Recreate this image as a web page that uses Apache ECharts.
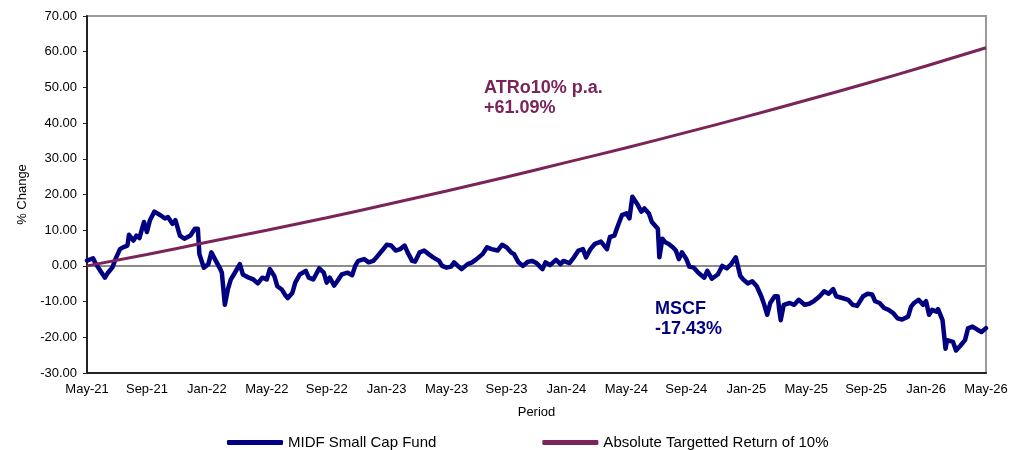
<!DOCTYPE html>
<html>
<head>
<meta charset="utf-8">
<script src="https://cdn.jsdelivr.net/npm/echarts@6/dist/echarts.min.js"></script>
<style>
  html, body { margin: 0; padding: 0; background: #fff; }
  #chart { width: 1031px; height: 450px; }
</style>
</head>
<body>
<div id="chart"></div>
<script>
// x positions are months since May-21
const xLabels = ["May-21", "Sep-21", "Jan-22", "May-22", "Sep-22", "Jan-23", "May-23", "Sep-23",
  "Jan-24", "May-24", "Sep-24", "Jan-25", "May-25", "Sep-25", "Jan-26", "May-26"];

const fundMonths = [
  0, 0.1, 0.4, 0.6, 0.9, 1.2, 1.4, 1.7, 1.9, 2.2, 2.4, 2.7, 2.8, 3.1, 3.3, 3.5, 3.8, 4.0, 4.2, 4.5,
  4.9, 5.2, 5.4, 5.7, 5.9, 6.2, 6.5, 6.9, 7.2, 7.4, 7.5, 7.8, 8.1, 8.3, 8.6, 8.9, 9.0, 9.2, 9.4, 9.6,
  9.8, 10.2, 10.4, 10.8, 11.1, 11.4, 11.7, 12.0, 12.2, 12.5, 12.7, 13.0, 13.2, 13.4, 13.7, 13.9, 14.2, 14.6, 14.8,
  14.9, 15.1, 15.5, 15.8, 16.0, 16.2, 16.5, 16.7, 17.0, 17.4, 17.7, 17.9, 18.1, 18.5, 18.8, 19.1, 19.4, 19.7,
  20.0, 20.3, 20.6, 20.9, 21.2, 21.4, 21.7, 21.9, 22.2, 22.5, 22.8, 23.1, 23.5, 23.7, 24.0, 24.3, 24.5, 24.8,
  25.0, 25.4, 25.7, 26.0, 26.4, 26.7, 27.0, 27.4, 27.7, 28.0, 28.3, 28.5, 28.8, 29.1, 29.4,
  29.7, 30.0, 30.4, 30.6, 30.9, 31.3, 31.6, 31.8, 32.2, 32.5, 32.8, 33.1, 33.3, 33.6, 33.9, 34.3, 34.4, 34.7,
  34.9, 35.2, 35.4, 35.7, 36.0, 36.2, 36.4, 36.7, 37.0, 37.2, 37.5, 37.7, 38.1, 38.2, 38.4, 38.6, 38.8, 39.1,
  39.3, 39.5, 39.7, 40.0, 40.2, 40.5, 40.8, 41.2, 41.4, 41.7, 42.1, 42.4, 42.7, 43.0, 43.3, 43.6, 43.8, 44.1,
  44.4, 44.7, 45.0, 45.2, 45.4, 45.6, 45.9, 46.1, 46.2, 46.3, 46.5, 46.9, 47.2, 47.5, 47.9, 48.2, 48.5, 48.9,
  49.2, 49.5, 49.8, 50.0, 50.4, 50.8, 51.1, 51.4, 51.8, 52.1, 52.4, 52.6, 52.9, 53.2, 53.5, 53.8, 54.1, 54.4,
  54.8, 55.0, 55.2, 55.5, 55.8, 56.0, 56.2, 56.4, 56.7, 56.8, 57.1, 57.3, 57.4, 57.8, 58.0, 58.3, 58.6, 58.8,
  59.1, 59.4, 59.7, 60.0
];
const fundValues = [
  1.5, 1.9, 2.1, 0.5, -1.4, -3.3, -1.9, -0.4, 1.9, 4.7, 5.2, 5.7, 8.7, 7.1, 8.5, 7.8, 12.3, 9.5, 12.8, 15.2,
  14.2, 13.3, 13.7, 11.8, 12.8, 8.5, 7.6, 8.5, 10.4, 10.4, 3.3, -0.5, 0.5, 3.8, 1.4, -0.9, -1.9, -10.9, -6.6, -3.8,
  -2.4, 0.5, -2.4, -3.3, -3.8, -4.9, -3.3, -3.8, -0.9, -2.8, -5.7, -6.6, -8.0, -9.0, -7.6, -4.7, -2.4, -1.4, -3.3,
  -3.3, -3.8, -0.7, -1.9, -4.7, -3.3, -5.5, -4.3, -2.4, -1.9, -2.6, 0, 1.4, 1.9, 1.0, 1.4, 2.8, 4.3,
  5.9, 5.7, 4.3, 4.7, 5.7, 3.8, 1.4, 1.2, 3.8, 4.3, 3.3, 2.4, 1.4, 0, -0.5, -0.2, 1.0, -0.2,
  -0.9, 0.5, 1.0, 1.9, 3.3, 5.2, 4.7, 4.3, 5.9, 5.2, 3.8, 3.3, 1.0, 0, 1.1,
  1.4, 0.8, -0.9, 1.0, 0.2, 1.7, 0.5, 1.4, 0.8, 2.4, 4.3, 4.7, 2.4, 4.7, 6.2, 6.8, 7.1, 4.7,
  8.1, 8.5, 10.9, 14.2, 14.7, 13.3, 19.4, 17.5, 15.2, 16.1, 14.7, 12.3, 10.4, 2.4, 7.6, 6.6, 6.2, 5.2,
  4.3, 1.9, 3.8, 1.9, -0.2, -0.5, -1.9, -3.3, -1.4, -3.6, -2.4, 0, -0.7, 0.5, 2.4, -2.8, -3.8, -4.9,
  -4.3, -5.7, -8.5, -10.9, -13.7, -10.4, -8.5, -8.5, -12.3, -15.2, -10.9, -10.4, -10.9, -9.5, -10.9, -10.6, -9.9, -8.5,
  -7.1, -7.8, -6.5, -8.5, -9.0, -9.5, -10.9, -11.2, -8.5, -7.8, -8.0, -9.9, -10.4, -11.8, -12.3, -13.2, -14.7, -15.0,
  -14.2, -11.4, -10.4, -9.5, -10.9, -9.9, -13.7, -12.3, -12.8, -12.1, -15.2, -23.2, -20.8, -21.3, -23.7, -22.3, -20.8, -17.5,
  -17.0, -17.8, -18.5, -17.43
];

// absolute targetted return, read at each 4-month tick
const atrMonths = [0, 4, 8, 12, 16, 20, 24, 28, 32, 36, 40, 44, 48, 52, 56, 60];
const atrValues = [0, 3.2, 6.6, 10.0, 13.5, 17.2, 21.0, 24.9, 29.0, 33.1, 37.4, 41.8, 46.4, 51.1, 56.0, 61.09];

const fundName = "MIDF Small Cap Fund";
const atrName = "Absolute Targetted Return of 10%";
const NAVY = "#000080";
const PURPLE = "#7B2459";
const FONT = "Liberation Sans";

const chart = echarts.init(document.getElementById("chart"));

chart.setOption({
  animation: false,
  textStyle: { fontFamily: FONT },
  grid: {
    left: 87, right: 45, top: 16, bottom: 77,
    outerBoundsMode: "none",
    show: true, borderColor: "#9a9a9a", borderWidth: 2
  },
  legend: {
    top: 430, left: 222,
    itemGap: 106, itemWidth: 56, itemHeight: 5,
    icon: "roundRect",
    textStyle: { fontSize: 15, color: "#000", fontFamily: FONT },
    data: [fundName, atrName]
  },
  xAxis: {
    type: "value", min: 0, max: 60, interval: 4,
    name: "Period", nameLocation: "middle", nameGap: 33,
    nameTextStyle: { fontSize: 13, color: "#000" },
    axisLine: { onZero: false, lineStyle: { color: "#222", width: 2 } },
    axisTick: { show: false },
    axisLabel: { fontSize: 13, color: "#000", margin: 10, formatter: v => xLabels[v / 4] },
    splitLine: { show: false }
  },
  yAxis: {
    type: "value", min: -30, max: 70, interval: 10,
    name: "% Change", nameLocation: "middle", nameGap: 58,
    nameTextStyle: { fontSize: 13, color: "#000" },
    axisLine: { show: true, lineStyle: { color: "#222", width: 2 } },
    axisTick: { show: true, length: 4, lineStyle: { color: "#222", width: 1 } },
    axisLabel: { fontSize: 13, color: "#000", margin: 10, formatter: v => v.toFixed(2) },
    splitLine: { show: false }
  },
  series: [
    {
      name: fundName, type: "line", showSymbol: false, symbol: "none",
      data: fundMonths.map((m, i) => [m, fundValues[i]]),
      lineStyle: { color: NAVY, width: 4.5, join: "round", cap: "round" },
      itemStyle: { color: NAVY },
      markLine: {
        silent: true, symbol: "none", label: { show: false },
        lineStyle: { color: "#8c8c8c", width: 2, type: "solid" },
        data: [{ yAxis: 0 }],
        z: 1
      },
      z: 3
    },
    {
      name: atrName, type: "line", showSymbol: false, symbol: "none", smooth: true,
      data: atrMonths.map((m, i) => [m, atrValues[i]]),
      lineStyle: { color: PURPLE, width: 3 },
      itemStyle: { color: PURPLE },
      z: 4
    }
  ],
  graphic: [
    { type: "text", left: 484, top: 78, style: { text: "ATRo10% p.a.\n+61.09%", fill: PURPLE, font: "bold 18px " + FONT, lineHeight: 20 } },
    { type: "text", left: 655, top: 299, style: { text: "MSCF\n-17.43%", fill: NAVY, font: "bold 18px " + FONT, lineHeight: 20 } }
  ]
});
</script>
</body>
</html>
